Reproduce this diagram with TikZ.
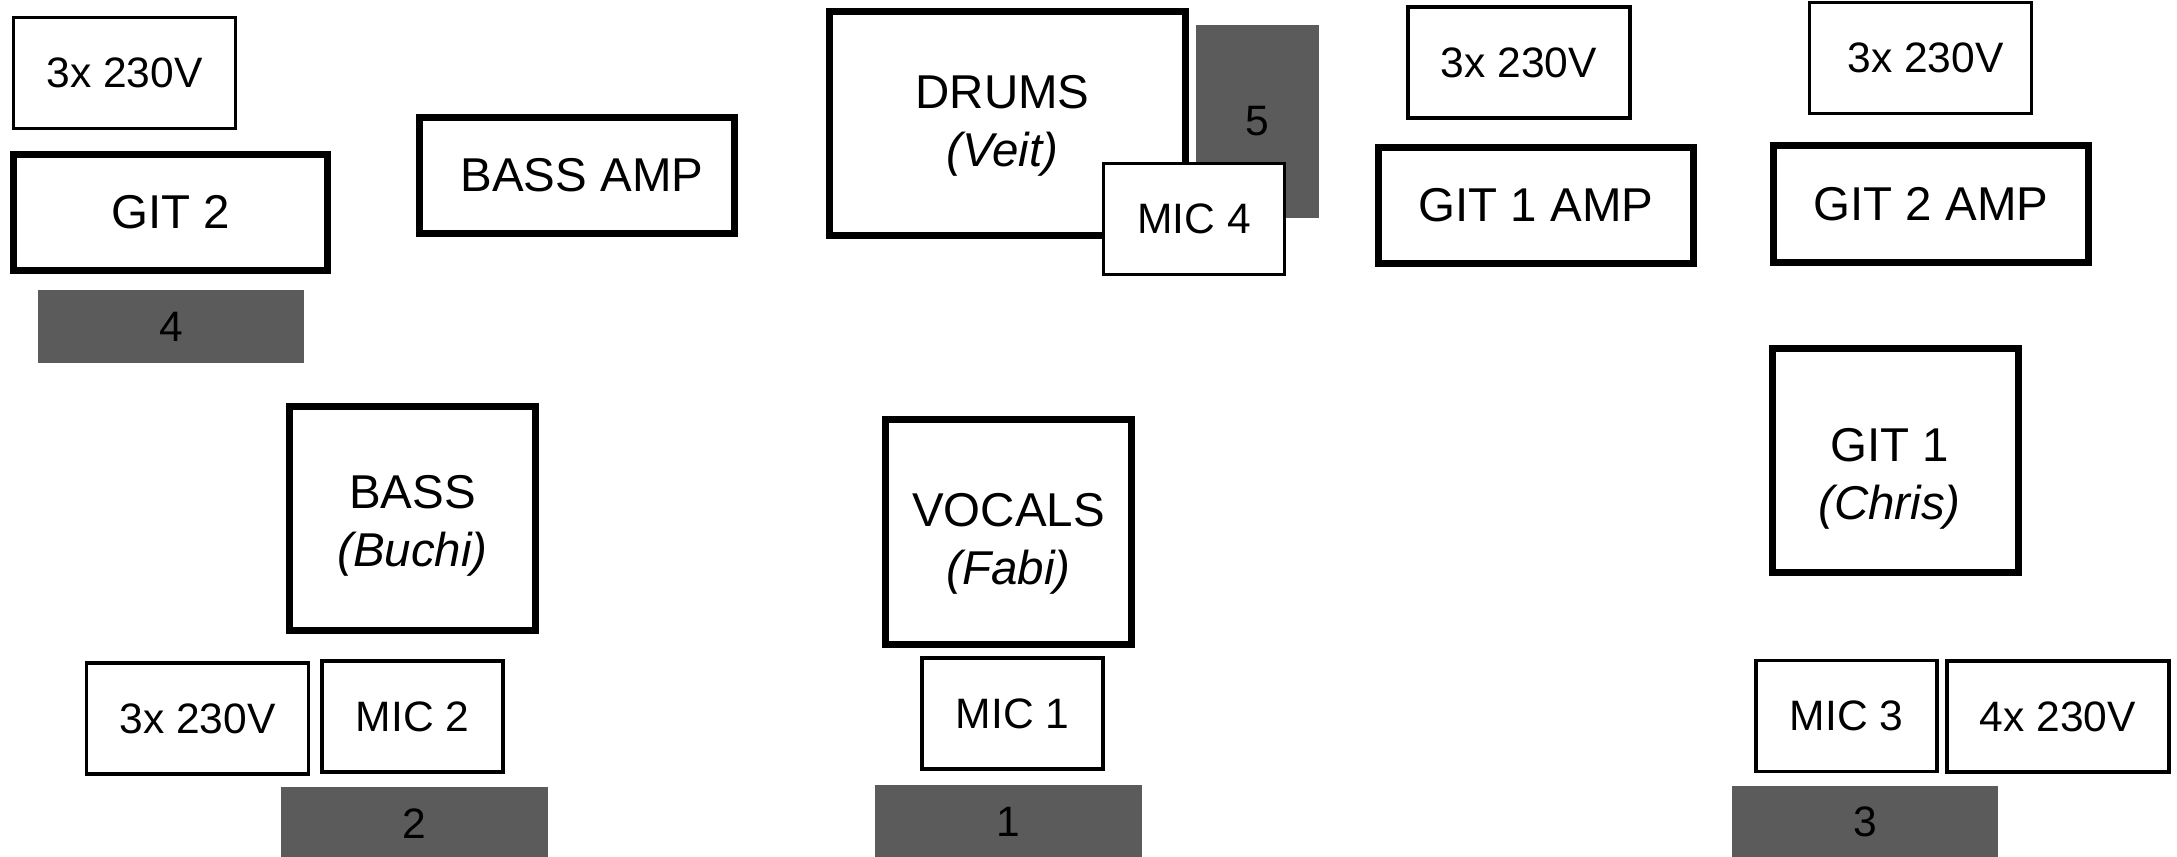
\documentclass[tikz,border=0pt]{standalone}
\usepackage{fontspec}
\setmainfont{Liberation Sans}
\definecolor{monitorgray}{HTML}{5B5B5B}
\newcommand{\bigtxt}{\fontsize{13.5}{16.5}\selectfont}
\newcommand{\smalltxt}{\fontsize{12.1}{14}\selectfont}

\begin{document}
\begin{tikzpicture}[x=0.01cm,y=-0.01cm,
	thickbox/.style={draw,line width=0.07cm,fill=white,inner sep=0pt,font=\bigtxt,align=center},
	ampbox/.style={thickbox,minimum width=3.15cm,minimum height=1.16cm},
	playerbox/.style={thickbox,minimum width=2.46cm,minimum height=2.24cm},
	playertext/.style={font=\bigtxt,align=center,inner sep=0pt},
	thinbox/.style={draw,line width=0.035cm,fill=white,inner sep=0pt,font=\smalltxt},
	powerbox/.style={thinbox,minimum width=2.22cm,minimum height=1.11cm},
	micbox/.style={thinbox,minimum width=1.81cm,minimum height=1.11cm},
	monitor/.style={fill=monitorgray,inner sep=0pt,font=\smalltxt,minimum width=2.66cm,minimum height=0.73cm}]
	\useasboundingbox (0,0) rectangle (2177,856);
	% back line
	\node[powerbox] (pwrgit2) at (124.5,73) {3x 230V};
	\node[ampbox,minimum width=3.14cm] (git2) at (170.5,212.5) {GIT 2};
	\node[monitor] (mon4) at (171,326.5) {4};
	\node[ampbox] (bassamp) at (577,175.5) {\hspace*{0.1cm}BASS AMP};
	\node[thickbox,minimum width=3.56cm,minimum height=2.24cm,
		label={[playertext,yshift=-0.02cm,xshift=-0.05cm]center:DRUMS\\\textit{(Veit)}}] (drums) at (1007.5,123.5) {};
	\node[monitor,minimum width=1.23cm,minimum height=1.93cm] (mon5) at (1257.5,121.5) {\raisebox{-0.06cm}{5}};
	\node[micbox] (mic4) at (1194,219) {MIC 4};
	\node[powerbox] (pwrgit1amp) at (1519,62.5) {3x 230V};
	\node[ampbox] (git1amp) at (1536,205.5) {GIT 1 AMP};
	\node[powerbox] (pwrgit2amp) at (1920.5,58) {\hspace*{0.1cm}3x 230V};
	\node[ampbox] (git2amp) at (1931,204) {GIT 2 AMP};
	% front line
	\node[playerbox,label={[playertext,yshift=-0.07cm]center:BASS\\\textit{(Buchi)}}] (bass) at (412.5,518.5) {};
	\node[powerbox] (pwrbass) at (197.5,718.5) {3x 230V};
	\node[micbox] (mic2) at (412.5,716.5) {MIC 2};
	\node[monitor] (mon2) at (414.5,823.5) {2};
	\node[playerbox,label={[playertext,yshift=-0.12cm]center:VOCALS\\\textit{(Fabi)}}] (vocals) at (1008.5,532) {};
	\node[micbox] (mic1) at (1012.5,713.5) {MIC 1};
	\node[monitor] (mon1) at (1008.5,821.5) {1};
	\node[playerbox,label={[playertext,yshift=-0.18cm,xshift=-0.06cm]center:GIT 1\\\textit{(Chris)}}] (git1) at (1895.5,460.5) {};
	\node[micbox] (mic3) at (1846.5,716) {MIC 3};
	\node[powerbox] (pwrgit1) at (2058,716.5) {4x 230V};
	\node[monitor] (mon3) at (1865,822) {3};
\end{tikzpicture}
\end{document}
